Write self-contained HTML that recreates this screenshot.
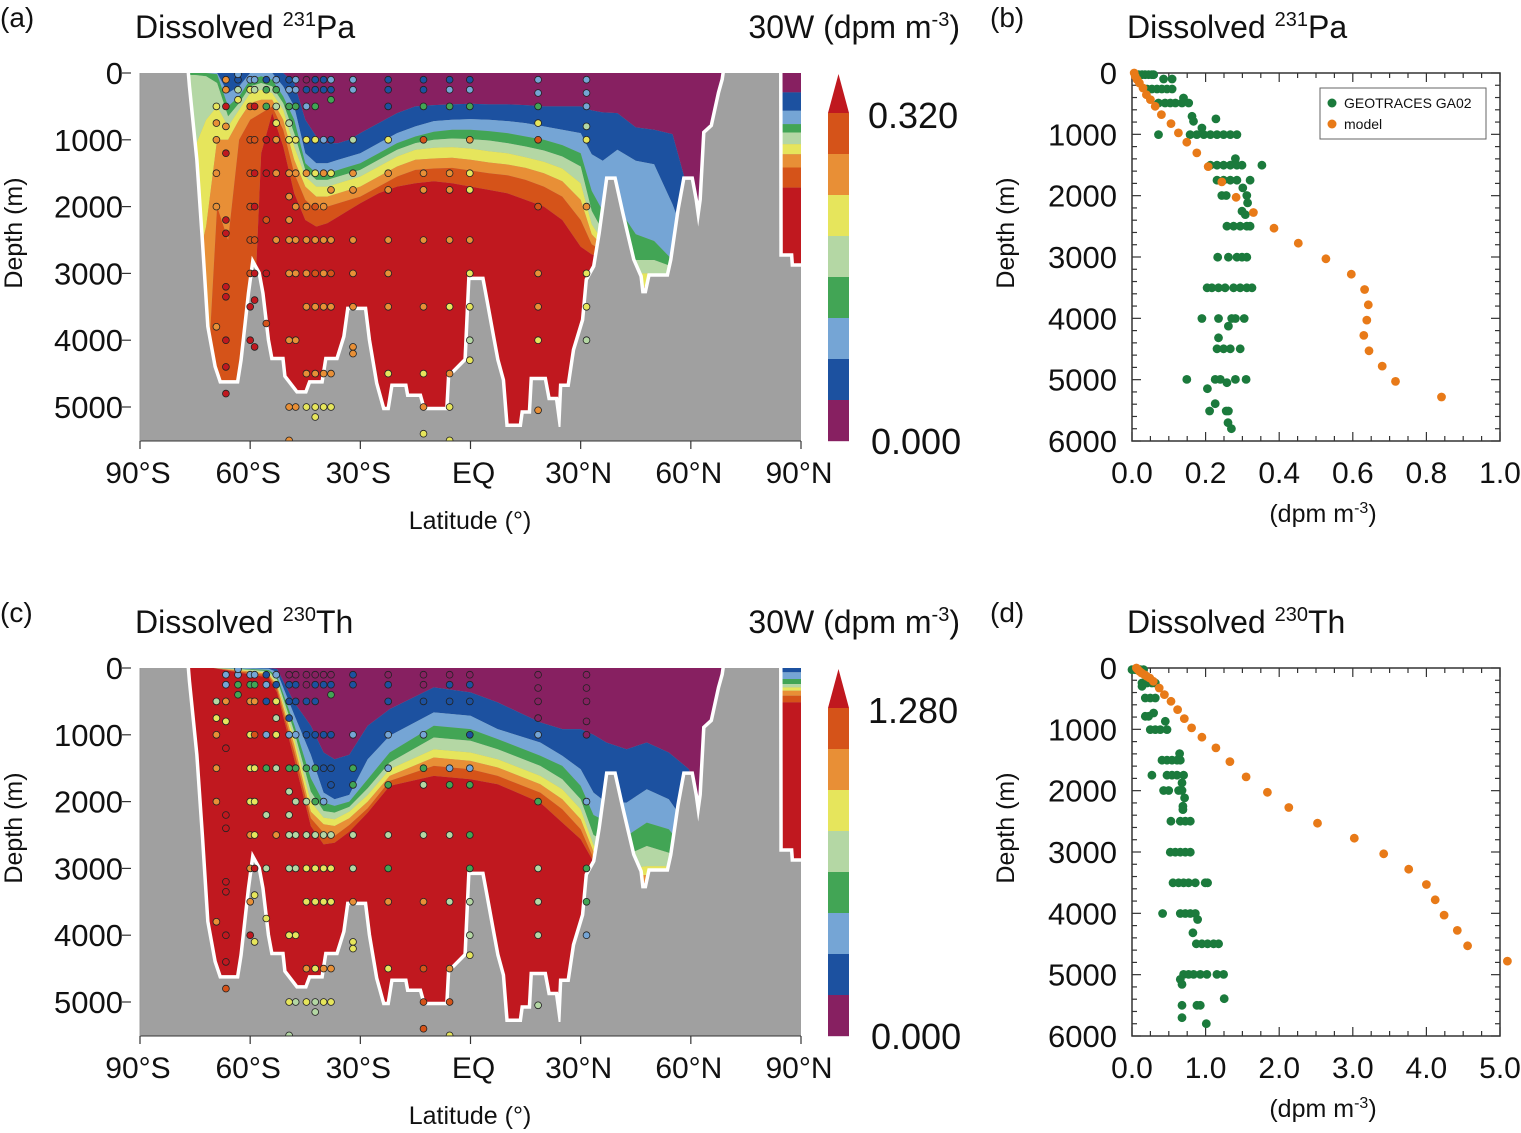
<!DOCTYPE html>
<html><head><meta charset="utf-8"><style>
html,body{margin:0;padding:0;background:#fff;}
svg{display:block;font-family:"Liberation Sans",sans-serif;}
</style></head><body>
<svg id="fig" width="1521" height="1133" viewBox="0 0 1521 1133" xmlns="http://www.w3.org/2000/svg">
<defs>
<clipPath id="clipA"><rect x="140" y="73" width="661" height="368"/></clipPath>
<clipPath id="clipC"><rect x="140" y="668" width="661" height="368"/></clipPath>
</defs>
<g id="root"></g>
</svg>
<script>
// ---------- shared data ----------
const levelColors = ["#872061","#1c51a0","#75a5d5","#42a555","#b4d7a4","#e6e55c","#e88f36","#d55319","#c0181f"];
const latTicks = [-90,-60,-30,0,30,60,90];
const latTickLabels = ["90°S","60°S","30°S","EQ","30°N","60°N","90°N"];
const depthTicksSec = [0,1000,2000,3000,4000,5000];
const depthTicksProf = [0,1000,2000,3000,4000,5000,6000];
const bathyLat = [-90,-77.6,-77,-75,-73.5,-72,-70,-68.5,-63,-62,-60,-59,-58,-57,-55.5,-54.5,-51.5,-51,-47.5,-44.5,-43.5,-40,-39,-36,-34,-33,-29,-28,-26,-24,-22,-21,-18,-17.5,-14,-13,-6,-5.5,-1,0,3,4,6,7,8.5,9.5,14,14.5,16.5,17,20,21,23,24,24.5,25,27,28.5,31,32,34,35.5,37.5,39,41,42.5,44,46,46.5,48,49,54,55,57,58.5,60,61,62,63,64,66,68,69,69.8,84,84.1,87,87.2,90];
const bathyDepth = [-200,-200,200,1300,2500,3800,4400,4650,4650,4300,3300,2900,3000,3300,4000,4300,4300,4550,4800,4800,4650,4650,4300,4300,3950,3550,3550,4000,4650,5050,5050,4700,4700,4850,4850,5050,5050,4550,4300,3100,3100,3400,4000,4300,4600,5300,5300,5100,5100,4600,4600,4900,4900,5300,5300,4700,4700,4150,3700,3100,2900,2400,1600,1600,2100,2450,2800,3050,3300,3300,3050,3050,2800,2050,1600,1600,1900,2300,1900,900,800,300,100,-200,-200,2750,2750,2900,2900];

// Panel (a) contour interface depths (m) per latitude
const aLat = [-78,-75,-72,-69,-66,-63,-60,-57,-54,-51,-48,-45,-42,-39,-36,-33,-30,-25,-20,-15,-10,-5,0,5,10,15,20,25,30,33,36,40,45,50,55,58,60,62,64,70,84,87,90];
const aBounds = [
[0,0,0,30,1100,3000,5000,5000],[0,0,0,30,1100,3000,5000,5000],[0,0,0,50,700,2300,5000,5000],
[0,0,20,150,500,1000,2000,5000],[0,300,500,650,800,1000,2500,5000],[0,200,350,450,550,700,1000,5000],
[0,0,100,200,300,450,700,5000],[0,0,50,150,250,400,600,1200],[0,0,100,200,300,400,500,600],
[0,200,350,450,550,700,850,1100],[150,500,700,900,1100,1300,1500,1800],[700,1200,1350,1450,1550,1700,1900,2200],
[950,1350,1500,1600,1700,1850,2050,2300],[1050,1350,1500,1600,1700,1850,2000,2250],[1050,1300,1450,1550,1650,1800,1950,2150],
[1000,1250,1400,1500,1600,1750,1900,2050],[900,1200,1350,1450,1550,1700,1850,1950],[750,1050,1200,1300,1400,1550,1700,1800],
[600,900,1050,1150,1250,1400,1550,1700],[500,800,950,1050,1150,1300,1450,1650],[480,720,880,1000,1120,1280,1430,1620],
[470,700,850,980,1110,1270,1420,1650],[460,690,850,990,1130,1300,1460,1700],[470,700,870,1010,1170,1340,1500,1750],
[470,720,900,1050,1200,1370,1530,1800],[480,750,950,1100,1260,1420,1600,1900],[500,800,1000,1160,1330,1500,1700,2000],
[500,850,1080,1250,1430,1620,1850,2200],[500,900,1200,1400,1650,1900,2200,2600],[560,1215,1765,2065,2265,2415,2565,2715],
[590,1315,2065,2365,2515,2590,2665,2765],[600,1150,2000,2700,2900,3100,3300,3500],[815,1315,2415,2800,3000,3200,3300,3400],
[850,1365,2515,2800,3000,3200,3300,3400],[915,1965,2800,2900,3050,3200,3300,3400],[1515,2400,3000,3100,3200,3300,3400,3500],
[2000,3000,3300,3400,3500,3600,3700,3800],[3000,3500,3600,3700,3800,3900,4000,4100],[6000,6000,6000,6000,6000,6000,6000,6000],
[6000,6000,6000,6000,6000,6000,6000,6000],[290,565,765,890,1065,1215,1415,1715],[290,565,765,890,1065,1215,1415,1715],
[290,565,765,890,1065,1215,1415,1715]];

// Panel (c)
const cLat = [-78,-70,-62,-55,-52.7,-48,-43.5,-40,-37,-33,-28,-22,-10,0,7.4,19,25,30,33.5,37,42.5,48,54,59.5,62,63.5,65,67,68.5,70,84,87,90];
const cBounds = [
[0,0,0,0,0,0,0,0],[0,0,0,0,0,0,0,0],[0,0,10,20,30,40,60,80],[0,10,30,50,70,90,110,140],
[15,60,120,170,220,260,310,365],[515,700,850,950,1050,1150,1250,1365],[865,1300,1650,1850,2000,2150,2250,2365],
[1265,1865,2015,2140,2240,2340,2465,2640],[1365,1965,2065,2165,2265,2365,2515,2615],[1300,1900,2000,2080,2150,2250,2350,2450],
[865,1365,1665,1800,1900,2000,2100,2165],[615,1015,1265,1415,1515,1615,1690,1765],[290,665,865,1040,1215,1340,1465,1615],
[365,715,915,1090,1265,1390,1515,1665],[515,915,1065,1215,1365,1490,1615,1740],[815,1115,1315,1465,1615,1740,1865,2015],
[915,1315,1465,1665,1815,1965,2115,2315],[915,1515,1765,1965,2115,2265,2415,2565],[1000,1865,2200,2500,2650,2750,2850,2900],
[1115,2015,2300,2600,2800,2900,3000,3100],[1215,2015,2515,2800,3000,3100,3200,3300],[1115,1815,2315,2665,2965,3100,3200,3300],
[1265,1965,2415,2765,2965,3100,3200,3300],[1515,2400,2800,3000,3100,3200,3300,3400],[2200,3000,3200,3300,3400,3500,3600,3700],
[2000,6000,6000,6000,6000,6000,6000,6000],[850,6000,6000,6000,6000,6000,6000,6000],[600,6000,6000,6000,6000,6000,6000,6000],
[300,6000,6000,6000,6000,6000,6000,6000],[100,6000,6000,6000,6000,6000,6000,6000],[0,65,165,240,290,340,415,515],
[0,65,165,240,290,340,415,515],[0,65,165,240,290,340,415,515]];

// Observation dots on sections: [lat, depth, colour level]
const aDots = [
[-69.2,500,5],[-69.2,750,6],[-69.2,1000,6],[-69.2,1500,6],[-69.2,2000,6],[-69.2,3800,6],
[-66.6,500,8],[-66.6,800,6],[-66.6,1200,8],[-66.6,2200,8],[-66.6,2400,8],[-66.6,3200,8],[-66.6,3350,8],[-66.6,4000,8],[-66.6,4400,8],[-66.6,4800,8],[-66.6,100,6],[-66.6,250,6],
[-63.3,100,1],[-63.3,250,4],[-63.3,400,5],[-63.3,20,2],
[-60,100,2],[-60,250,5],[-60,500,7],[-60,1000,7],[-60,1500,7],[-60,2000,7],[-60,2500,7],[-60,3000,7],[-60,3500,8],[-60,4000,8],
[-58.8,100,2],[-58.8,250,4],[-58.8,500,8],[-58.8,1000,7],[-58.8,1500,8],[-58.8,2000,8],[-58.8,2500,7],[-58.8,3000,8],[-58.8,3400,8],[-58.8,4100,8],
[-55.6,100,1],[-55.6,250,3],[-55.6,500,3],[-55.6,1000,8],[-55.6,1500,8],[-55.6,2200,7],[-55.6,3000,8],[-55.6,3750,7],
[-52.9,100,2],[-52.9,250,3],[-52.9,500,4],[-52.9,750,5],[-52.9,1000,6],[-52.9,1500,6],[-52.9,2500,6],
[-49.4,100,1],[-49.4,250,2],[-49.4,500,3],[-49.4,750,4],[-49.4,1000,5],[-49.4,1500,6],[-49.4,1850,6],[-49.4,2200,6],[-49.4,2500,6],[-49.4,3000,6],[-49.4,4000,6],[-49.4,5000,6],[-49.4,5500,6],
[-47.6,100,2],[-47.6,250,2],[-47.6,500,3],[-47.6,1000,5],[-47.6,1500,6],[-47.6,2000,6],[-47.6,2500,6],[-47.6,3000,6],[-47.6,4000,6],[-47.6,5000,6],
[-44.7,100,0],[-44.7,250,1],[-44.7,500,2],[-44.7,1000,5],[-44.7,1500,6],[-44.7,2000,6],[-44.7,2500,6],[-44.7,3000,6],[-44.7,3500,6],[-44.7,4500,6],[-44.7,5000,5],
[-42.3,100,1],[-42.3,250,1],[-42.3,500,3],[-42.3,1000,5],[-42.3,1500,5],[-42.3,2000,7],[-42.3,2500,6],[-42.3,3000,7],[-42.3,3500,6],[-42.3,4500,6],[-42.3,5000,5],[-42.3,5150,5],
[-40,100,1],[-40,250,1],[-40,1000,2],[-40,1500,6],[-40,2000,6],[-40,2500,6],[-40,3000,6],[-40,3500,6],[-40,4500,6],[-40,5000,5],
[-38,100,2],[-38,250,1],[-38,400,3],[-38,1000,1],[-38,1500,5],[-38,1750,6],[-38,2500,6],[-38,3000,7],[-38,3500,6],[-38,4500,6],[-38,5000,5],
[-32,100,2],[-32,250,2],[-32,1000,4],[-32,1500,6],[-32,1750,6],[-32,2500,6],[-32,3000,6],[-32,3500,6],[-32,4100,6],[-32,4200,6],
[-22.4,100,1],[-22.4,250,1],[-22.4,500,1],[-22.4,1000,5],[-22.4,1500,6],[-22.4,1750,6],[-22.4,2500,6],[-22.4,3000,6],[-22.4,3500,6],[-22.4,4500,5],
[-12.8,100,1],[-12.8,250,1],[-12.8,500,3],[-12.8,1000,7],[-12.8,1500,6],[-12.8,1750,6],[-12.8,2500,6],[-12.8,3500,6],[-12.8,4500,5],[-12.8,5000,6],[-12.8,5400,5],
[-5.7,100,1],[-5.7,250,2],[-5.7,500,3],[-5.7,1500,6],[-5.7,1750,6],[-5.7,2500,6],[-5.7,3500,5],[-5.7,4500,6],[-5.7,5000,5],[-5.7,5500,5],
[-0.2,100,1],[-0.2,250,2],[-0.2,500,3],[-0.2,1000,6],[-0.2,1500,5],[-0.2,1750,5],[-0.2,2500,6],[-0.2,3000,5],[-0.2,3500,5],[-0.2,4000,4],[-0.2,4300,5],
[18.4,100,2],[18.4,300,2],[18.4,500,3],[18.4,750,5],[18.4,1000,7],[18.4,2000,7],[18.4,3000,6],[18.4,3500,6],[18.4,4000,5],[18.4,5050,6],
[31.6,100,2],[31.6,300,2],[31.6,500,2],[31.6,800,4],[31.6,1000,5],[31.6,2000,6],[31.6,3000,5],[31.6,3500,5],[31.6,4000,4]];
const cDots = [
[-69.2,500,4],[-69.2,750,5],[-69.2,1000,6],[-69.2,1500,6],[-69.2,2000,6],[-69.2,3800,6],
[-66.6,500,6],[-66.6,800,5],[-66.6,1200,8],[-66.6,2200,8],[-66.6,2400,8],[-66.6,3200,8],[-66.6,3350,8],[-66.6,4000,8],[-66.6,4400,8],[-66.6,4800,7],[-66.6,100,2],[-66.6,250,2],
[-63.3,100,2],[-63.3,250,3],[-63.3,400,3],[-63.3,20,2],
[-60,100,2],[-60,250,3],[-60,500,6],[-60,1000,5],[-60,1500,5],[-60,2000,5],[-60,2500,6],[-60,3000,6],[-60,3500,6],[-60,4000,8],
[-58.8,100,2],[-58.8,250,3],[-58.8,500,6],[-58.8,1000,7],[-58.8,1500,5],[-58.8,2000,5],[-58.8,2500,5],[-58.8,3000,8],[-58.8,3400,5],[-58.8,4100,5],
[-55.6,100,1],[-55.6,250,2],[-55.6,500,1],[-55.6,1000,2],[-55.6,1500,3],[-55.6,2200,4],[-55.6,3000,4],[-55.6,3750,5],
[-52.9,100,2],[-52.9,250,1],[-52.9,500,5],[-52.9,750,4],[-52.9,1000,5],[-52.9,1500,4],[-52.9,2500,6],
[-49.4,100,0],[-49.4,250,1],[-49.4,500,1],[-49.4,750,1],[-49.4,1000,2],[-49.4,1500,3],[-49.4,1850,4],[-49.4,2200,4],[-49.4,2500,4],[-49.4,3000,4],[-49.4,4000,5],[-49.4,5000,5],[-49.4,5500,4],
[-47.6,100,0],[-47.6,250,1],[-47.6,500,1],[-47.6,1000,2],[-47.6,1500,3],[-47.6,2000,4],[-47.6,2500,4],[-47.6,3000,4],[-47.6,4000,5],[-47.6,5000,4],
[-44.7,100,0],[-44.7,250,0],[-44.7,500,1],[-44.7,1000,1],[-44.7,1500,3],[-44.7,2000,4],[-44.7,2500,4],[-44.7,3000,5],[-44.7,3500,5],[-44.7,4500,6],[-44.7,5000,5],
[-42.3,100,0],[-42.3,250,1],[-42.3,500,1],[-42.3,1000,1],[-42.3,1500,3],[-42.3,2000,3],[-42.3,2500,4],[-42.3,3000,5],[-42.3,3500,5],[-42.3,4500,5],[-42.3,5000,4],[-42.3,5150,4],
[-40,100,0],[-40,250,1],[-40,1000,1],[-40,1500,1],[-40,2000,2],[-40,2500,4],[-40,3000,5],[-40,3500,5],[-40,4500,6],[-40,5000,5],
[-38,100,0],[-38,250,1],[-38,400,3],[-38,1000,1],[-38,1500,1],[-38,1750,1],[-38,2500,4],[-38,3000,5],[-38,3500,5],[-38,4500,6],[-38,5000,5],
[-32,100,1],[-32,250,1],[-32,1000,2],[-32,1500,3],[-32,1750,3],[-32,2500,4],[-32,3000,4],[-32,3500,6],[-32,4100,5],[-32,4200,5],
[-22.4,100,0],[-22.4,250,1],[-22.4,500,1],[-22.4,1000,2],[-22.4,1500,2],[-22.4,1750,3],[-22.4,2500,4],[-22.4,3000,3],[-22.4,3500,6],[-22.4,4500,5],
[-12.8,100,0],[-12.8,250,0],[-12.8,500,1],[-12.8,1000,2],[-12.8,1500,3],[-12.8,1750,4],[-12.8,2500,4],[-12.8,3500,6],[-12.8,4500,7],[-12.8,5000,7],[-12.8,5400,7],
[-5.7,100,0],[-5.7,250,1],[-5.7,500,1],[-5.7,1500,2],[-5.7,1750,3],[-5.7,2500,4],[-5.7,3500,4],[-5.7,4500,6],[-5.7,5000,7],[-5.7,5500,5],
[-0.2,100,0],[-0.2,250,1],[-0.2,500,1],[-0.2,1000,1],[-0.2,1500,2],[-0.2,1750,3],[-0.2,2500,3],[-0.2,3000,3],[-0.2,3500,4],[-0.2,4000,4],[-0.2,4300,5],
[18.4,100,0],[18.4,300,0],[18.4,500,0],[18.4,750,0],[18.4,1000,2],[18.4,2000,3],[18.4,3000,4],[18.4,3500,4],[18.4,4000,4],[18.4,5050,4],
[31.6,100,0],[31.6,300,0],[31.6,500,0],[31.6,800,0],[31.6,1000,0],[31.6,2000,2],[31.6,3000,3],[31.6,3500,3],[31.6,4000,2]];

// Profile (b) Pa
const bObsDepth = [27,27,27,27,27,27,98,98,261,261,261,261,261,261,407,489,489,489,489,489,489,706,749,787,896,1005,1005,1005,1005,1005,1005,1005,1005,1005,1395,1504,1504,1504,1504,1504,1504,1504,1748,1748,1748,1748,1748,1873,1998,1998,1998,2118,2253,2308,2498,2498,2498,2498,2498,3003,3003,3003,3003,3003,3502,3502,3502,3502,3502,3502,3502,3502,4002,4002,4002,4002,4002,4127,4317,4496,4496,4496,4496,4996,4996,4996,4996,4996,5050,5148,5392,5511,5511,5511,5702,5799];
const bObsVal = [.018,.027,.036,.045,.054,.059,.086,.109,.041,.054,.068,.081,.095,.109,.140,.072,.090,.104,.118,.136,.154,.163,.228,.167,.190,.072,.158,.176,.195,.213,.231,.249,.267,.285,.281,.213,.231,.249,.267,.285,.299,.353,.231,.249,.267,.285,.321,.301,.244,.256,.312,.314,.299,.308,.258,.276,.294,.312,.321,.233,.262,.285,.299,.312,.204,.217,.235,.253,.276,.294,.312,.326,.190,.235,.271,.281,.305,.262,.235,.231,.249,.267,.294,.149,.226,.240,.281,.310,.258,.205,.226,.211,.256,.262,.261,.270];
const modelDepth = [0,54,109,163,244,353,434,543,679,825,977,1129,1303,1526,1776,2026,2275,2530,2775,3030,3280,3530,3779,4029,4279,4529,4778,5028,5283];
const bModelVal = [.006,.009,.014,.02,.03,.039,.05,.063,.08,.106,.126,.149,.176,.207,.244,.283,.33,.386,.452,.527,.596,.632,.642,.638,.63,.644,.68,.716,.841];
// Profile (d) Th
const dObsDepth = [27,27,27,27,244,244,244,244,299,489,489,489,733,787,787,869,1005,1005,1005,1005,1395,1504,1504,1504,1504,1504,1748,1748,1748,1748,1748,1873,1998,1998,1998,1998,2118,2253,2308,2498,2498,2498,2498,3003,3003,3003,3003,3003,3502,3502,3502,3502,3502,3502,3502,4002,4002,4002,4002,4002,4100,4317,4496,4496,4496,4496,4496,4996,4996,4996,4996,4996,4996,4996,5077,5159,5392,5500,5500,5500,5702,5799];
const dObsVal = [0,.045,.113,.158,.136,.204,.271,.317,.136,.181,.249,.317,.294,.181,.226,.452,.249,.317,.385,.475,.647,.407,.475,.543,.611,.656,.271,.475,.543,.611,.701,.679,.430,.498,.633,.679,.715,.692,.692,.529,.656,.724,.792,.520,.588,.656,.724,.792,.557,.633,.701,.769,.860,.995,1.027,.416,.656,.724,.792,.860,.891,.828,.873,.950,1.027,1.109,1.176,.701,.769,.837,.928,1.018,1.154,1.244,.656,.679,1.253,.679,.882,.928,.679,1.009];
const dModelVal = [.06,.08,.10,.13,.17,.20,.24,.29,.37,.44,.53,.62,.71,.81,.95,1.14,1.33,1.55,1.84,2.13,2.52,3.02,3.42,3.76,4.0,4.12,4.24,4.42,4.56,5.1];
const dModelDepth = [0,27,54,81,109,136,163,217,326,434,543,679,825,977,1129,1303,1526,1776,2026,2275,2530,2775,3030,3280,3530,3779,4029,4279,4529,4778];
const profXTicksB = ["0.0","0.2","0.4","0.6","0.8","1.0"];
const profXTicksD = ["0.0","1.0","2.0","3.0","4.0","5.0"];

// ---------- drawing ----------
const NS = "http://www.w3.org/2000/svg";
const root = document.getElementById('root');
function el(tag, attrs, parent){
  const e = document.createElementNS(NS, tag);
  for (const k in attrs) e.setAttribute(k, attrs[k]);
  (parent||root).appendChild(e);
  return e;
}
function txt(str, x, y, size, anchor, parent, name){
  const t = el('text', {x:x, y:y, 'font-size':size, 'text-anchor':anchor||'start', fill:'#111'}, parent);
  t.textContent = str;
  
  
  return t;
}

function section(oy, lats, bounds, dots, clipId, isoTitle, elemTitle, cbMax, tag){
  const g = el('g', {});
  
  
  const X = lat => 140 + (lat+90)/180*661;
  const Y = d => oy + d*0.0668;
  const bg = el('rect', {x:140, y:oy, width:661, height:368, fill:'#a0a0a0'}, g);
  
  
  const cg = el('g', {'clip-path':'url(#'+clipId+')'}, g);
  for (let k=0;k<9;k++){
    const topPts=[], botPts=[];
    for (let i=0;i<lats.length;i++){
      const t = k===0 ? 0 : bounds[i][k-1];
      const b = k===8 ? 6000 : bounds[i][k];
      topPts.push(X(lats[i]).toFixed(1)+','+Y(t).toFixed(1));
      botPts.unshift(X(lats[i]).toFixed(1)+','+Y(b).toFixed(1));
    }
    const p = el('polygon', {points: topPts.concat(botPts).join(' '), fill: levelColors[k]}, cg);
    
    
  }
  let pts = bathyLat.map((l,i)=>X(l).toFixed(1)+','+Y(bathyDepth[i]).toFixed(1));
  const line = el('polyline', {points: pts.join(' '), fill:'none', stroke:'#fff', 'stroke-width':7, 'stroke-linejoin':'miter'}, cg);
  
  
  const poly = el('polygon', {points: pts.concat([X(90)+','+Y(6000), X(-90)+','+Y(6000)]).join(' '), fill:'#a0a0a0'}, cg);
  
  
  for (const d of dots){
    const c = el('circle', {cx:X(d[0]).toFixed(1), cy:Y(d[1]).toFixed(1), r:3.4, fill:levelColors[d[2]], stroke:'#222', 'stroke-width':0.8}, cg);
    
    
  }
  el('line', {x1:140, y1:oy+368, x2:801, y2:oy+368, stroke:'#333', 'stroke-width':1}, g);
  el('line', {x1:140, y1:oy, x2:140, y2:oy+368, stroke:'#999', 'stroke-width':1}, g);
  depthTicksSec.forEach(d=>{
    el('line', {x1:122, x2:131, y1:Y(d), y2:Y(d), stroke:'#333', 'stroke-width':1.2}, g);
    txt(String(d), 123, Y(d)+11, 31, 'end', g, 'y-tick-label');
  });
  latTicks.forEach((l,i)=>{
    el('line', {x1:X(l), x2:X(l), y1:oy+368, y2:oy+376, stroke:'#333', 'stroke-width':1.2}, g);
    txt(latTickLabels[i], X(l)+ (i===3?3:-2), oy+410, 30, 'middle', g, 'x-tick-label');
  });
  txt('Latitude (°)', 470, oy+456, 25, 'middle', g, 'x-axis-title');
  const yt = txt('Depth (m)', 0, 0, 25, 'middle', g, 'y-axis-title');
  yt.setAttribute('transform', 'translate(22,'+(oy+160)+') rotate(-90)');
  txt('('+tag+')', 0, oy-46, 28, 'start', g, 'panel-letter');
  const t = txt('Dissolved ', 135, oy-35, 32, 'start', g, 'panel-title');
  const s = el('tspan', {'font-size':20, dy:-12}, t); s.textContent = isoTitle;
  const s2 = el('tspan', {dy:12}, t); s2.textContent = elemTitle;
  const u = txt('30W  (dpm\u00a0m', 960, oy-35, 32, 'end', g, 'units-label');
  u.setAttribute('xml:space', 'preserve');
  const su = el('tspan', {'font-size':20, dy:-12}, u); su.textContent = '-3';
  const su2 = el('tspan', {dy:12}, u); su2.textContent = ')';
  const cb = el('g', {}, g);
  
  
  el('polygon', {points:'828,'+(oy+40)+' 849,'+(oy+40)+' 838.5,'+(oy+1), fill:levelColors[8]}, cb);
  for (let k=7;k>=0;k--){
    const y0 = oy+40 + (7-k)*41;
    el('rect', {x:828, y:y0, width:21, height:41.2, fill:levelColors[k]}, cb);
  }
  txt(cbMax, 868, oy+55, 36, 'start', g, 'colorbar-max-label');
  txt('0.000', 871, oy+381, 36, 'start', g, 'colorbar-min-label');
}

function profile(oy, xmax, obsD, obsV, modD, modV, xLabels, isoTitle, elemTitle, tag, legend){
  const g = el('g', {});
  
  
  const X = v => 1132 + v/xmax*368;
  const Y = d => oy + d/6000*368;
  el('rect', {x:1132, y:oy, width:368, height:368, fill:'#fff', stroke:'#333', 'stroke-width':1.5}, g);
  for (let d=0; d<=6000; d+=200){
    const L = d%1000===0 ? 9 : 5;
    el('line', {x1:1132, x2:1132+L, y1:Y(d), y2:Y(d), stroke:'#333', 'stroke-width':1.2}, g);
    el('line', {x1:1500, x2:1500-L, y1:Y(d), y2:Y(d), stroke:'#333', 'stroke-width':1.2}, g);
  }
  for (let i=0;i<=20;i++){
    const x = 1132 + i*368/20;
    const L = i%4===0 ? 9 : 5;
    el('line', {x1:x, x2:x, y1:oy, y2:oy+L, stroke:'#333', 'stroke-width':1.2}, g);
    el('line', {x1:x, x2:x, y1:oy+368, y2:oy+368-L, stroke:'#333', 'stroke-width':1.2}, g);
  }
  depthTicksProf.forEach(d=> txt(String(d), 1117, Y(d)+11, 31, 'end', g, 'y-tick-label'));
  xLabels.forEach((s,i)=> txt(s, X(i*xmax/5), oy+410, 30, 'middle', g, 'x-tick-label'));
  const xt = txt('(dpm\u00a0m', 1323, oy+449, 25, 'middle', g, 'x-axis-title');
  const a = el('tspan', {'font-size':16, dy:-9}, xt); a.textContent='-3';
  const b = el('tspan', {dy:9}, xt); b.textContent=')';
  const yt = txt('Depth (m)', 0, 0, 25, 'middle', g, 'y-axis-title');
  yt.setAttribute('transform', 'translate(1014,'+(oy+160)+') rotate(-90)');
  txt('('+tag+')', 990, oy-46, 28, 'start', g, 'panel-letter');
  const t = txt('Dissolved ', 1127, oy-35, 32, 'start', g, 'panel-title');
  const s = el('tspan', {'font-size':20, dy:-12}, t); s.textContent = isoTitle;
  const s2 = el('tspan', {dy:12}, t); s2.textContent = elemTitle;
  const cg = el('g', {}, g);
  for (let i=0;i<obsD.length;i++){
    const c = el('circle', {cx:X(obsV[i]).toFixed(1), cy:Y(obsD[i]).toFixed(1), r:4.4, fill:'#1b7a3c'}, cg);
    
    
  }
  for (let i=0;i<modD.length;i++){
    const c = el('circle', {cx:X(modV[i]).toFixed(1), cy:Y(modD[i]).toFixed(1), r:4.4, fill:'#e87a18'}, cg);
    
    
  }
  if (legend){
    const lg = el('g', {}, g);
    
    
    el('rect', {x:1320, y:oy+15, width:166, height:51, fill:'#fff', stroke:'#666', 'stroke-width':1}, lg);
    el('circle', {cx:1332, cy:oy+30, r:4.5, fill:'#1b7a3c'}, lg);
    txt('GEOTRACES GA02', 1344, oy+35, 14, 'start', lg, 'legend-entry-obs');
    el('circle', {cx:1332, cy:oy+51, r:4.5, fill:'#e87a18'}, lg);
    txt('model', 1344, oy+56, 14, 'start', lg, 'legend-entry-model');
  }
}

section(73, aLat, aBounds, aDots, 'clipA', '231', 'Pa', '0.320', 'a');
section(668, cLat, cBounds, cDots, 'clipC', '230', 'Th', '1.280', 'c');
profile(73, 1.0, bObsDepth, bObsVal, modelDepth, bModelVal, profXTicksB, '231', 'Pa', 'b', true);
profile(668, 5.0, dObsDepth, dObsVal, dModelDepth, dModelVal, profXTicksD, '230', 'Th', 'd', false);
</script>
</body></html>
